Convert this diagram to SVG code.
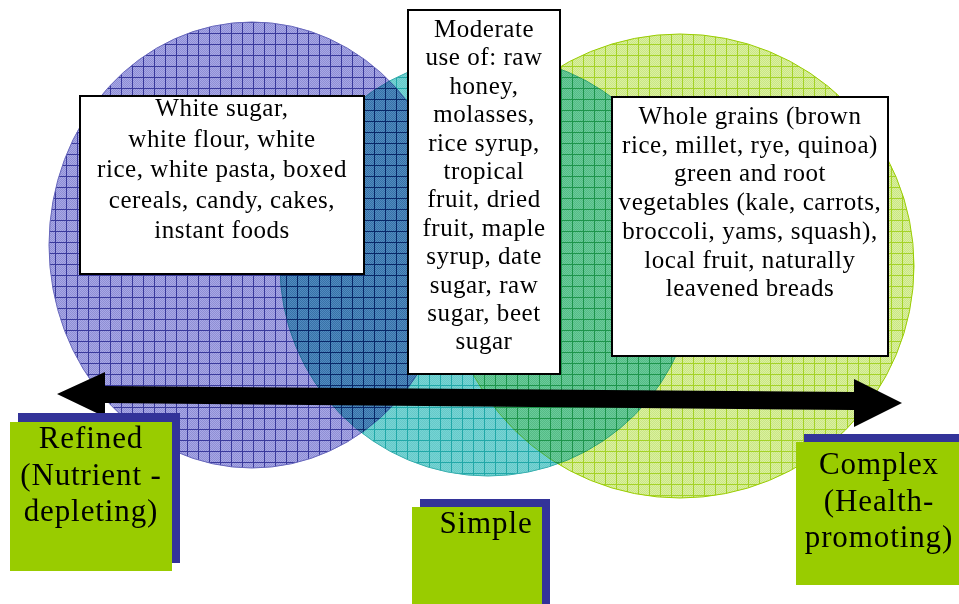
<svg xmlns="http://www.w3.org/2000/svg" width="959" height="604" viewBox="0 0 959 604">
<style>
.mul{mix-blend-mode:multiply}
.box{fill:#ffffff;stroke:#000000;stroke-width:2}
.t{font-family:"Liberation Serif","DejaVu Serif",serif;font-size:25px;letter-spacing:0.55px;fill:#000;text-anchor:middle}
.lbl{font-family:"Liberation Serif","DejaVu Serif",serif;font-size:31px;letter-spacing:0.9px;fill:#000;text-anchor:middle}
.sh{fill:#333399}
.gr{fill:#99cc00}
</style>
<defs>
<pattern id="chkB" width="2" height="2" patternUnits="userSpaceOnUse"><rect width="2" height="2" fill="#a8a8e6"/><rect width="1" height="1" fill="#8e8ed4"/><rect x="1" y="1" width="1" height="1" fill="#8e8ed4"/></pattern>
<pattern id="pB" width="11" height="11" patternUnits="userSpaceOnUse"><rect width="11" height="11" fill="url(#chkB)"/><path d="M0 0.5H11M0.5 0V11" stroke="#3a3a9c" stroke-width="1"/></pattern>
<pattern id="chkT" width="2" height="2" patternUnits="userSpaceOnUse"><rect width="2" height="2" fill="#8cdcdc"/><rect width="1" height="1" fill="#72cccc"/><rect x="1" y="1" width="1" height="1" fill="#72cccc"/></pattern>
<pattern id="pT" width="11" height="11" patternUnits="userSpaceOnUse"><rect width="11" height="11" fill="url(#chkT)"/><path d="M0 0.5H11M0.5 0V11" stroke="#119c9c" stroke-width="1"/></pattern>
<pattern id="chkG" width="2" height="2" patternUnits="userSpaceOnUse"><rect width="2" height="2" fill="#dcf0a0"/><rect width="1" height="1" fill="#c8e684"/><rect x="1" y="1" width="1" height="1" fill="#c8e684"/></pattern>
<pattern id="pG" width="11" height="11" patternUnits="userSpaceOnUse"><rect width="11" height="11" fill="url(#chkG)"/><path d="M0 0.5H11M0.5 0V11" stroke="#a4d226" stroke-width="1"/></pattern>
</defs>
<rect width="959" height="604" fill="#ffffff"/>
<g id="circles">
<ellipse id="circle-complex" class="mul" cx="680" cy="266" rx="234" ry="232" fill="url(#pG)" stroke="#99cc00" stroke-width="1"/>
<g id="circle-simple">
<ellipse class="mul" cx="488" cy="266" rx="208" ry="210" fill="url(#pT)" stroke="#33aaaa" stroke-width="1"/>
<ellipse cx="488" cy="266" rx="208" ry="210" fill="#4ac4c4" opacity="0.3"/>
</g>
<ellipse id="circle-refined" class="mul" cx="252" cy="245" rx="203" ry="223" fill="url(#pB)" stroke="#6666bb" stroke-width="1"/>
</g>
<g id="box-refined">
<rect class="box" x="80" y="96" width="284" height="178"/>
<text class="t"><tspan x="222" y="116">White sugar,</tspan><tspan x="222" y="146.5">white flour, white</tspan><tspan x="222" y="177">rice, white pasta, boxed</tspan><tspan x="222" y="207.5">cereals, candy, cakes,</tspan><tspan x="222" y="238">instant foods</tspan></text>
</g>
<g id="box-simple">
<rect class="box" x="408" y="10" width="152" height="364"/>
<text class="t"><tspan x="484" y="37">Moderate</tspan><tspan x="484" y="65.4">use of: raw</tspan><tspan x="484" y="93.8">honey,</tspan><tspan x="484" y="122.2">molasses,</tspan><tspan x="484" y="150.6">rice syrup,</tspan><tspan x="484" y="179">tropical</tspan><tspan x="484" y="207.4">fruit, dried</tspan><tspan x="484" y="235.8">fruit, maple</tspan><tspan x="484" y="264.2">syrup, date</tspan><tspan x="484" y="292.6">sugar, raw</tspan><tspan x="484" y="321">sugar, beet</tspan><tspan x="484" y="349.4">sugar</tspan></text>
</g>
<g id="box-complex">
<rect class="box" x="612" y="97" width="276" height="259"/>
<text class="t"><tspan x="750" y="124">Whole grains (brown</tspan><tspan x="750" y="152.7">rice, millet, rye, quinoa)</tspan><tspan x="750" y="181.4">green and root</tspan><tspan x="750" y="210.1">vegetables (kale, carrots,</tspan><tspan x="750" y="238.8">broccoli, yams, squash),</tspan><tspan x="750" y="267.5">local fruit, naturally</tspan><tspan x="750" y="296.2">leavened breads</tspan></text>
</g>
<g id="connectors">
<polygon id="arrow" points="57,394 105,372 105,386 854,392 854,379 902,403 854,427 854,410 105,403 105,417" fill="#000000"/>
</g>
<g id="label-refined">
<rect class="sh" x="18" y="413" width="162" height="150"/>
<rect class="gr" x="10" y="422" width="162" height="149"/>
<text class="lbl"><tspan x="91" y="448">Refined</tspan><tspan x="91" y="485">(Nutrient -</tspan><tspan x="91" y="521">depleting)</tspan></text>
</g>
<g id="label-simple">
<rect class="sh" x="420" y="499" width="130" height="105"/>
<rect class="gr" x="412" y="507" width="130" height="97"/>
<text class="lbl"><tspan x="486" y="533">Simple</tspan></text>
</g>
<g id="label-complex">
<rect class="sh" x="804" y="434" width="155" height="151"/>
<rect class="gr" x="796" y="442" width="163" height="143"/>
<text class="lbl"><tspan x="879" y="474">Complex</tspan><tspan x="879" y="511">(Health-</tspan><tspan x="879" y="547">promoting)</tspan></text>
</g>
</svg>
